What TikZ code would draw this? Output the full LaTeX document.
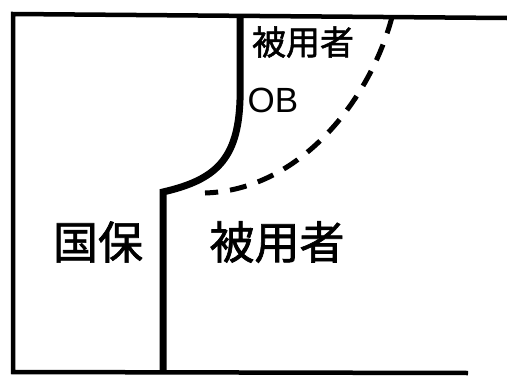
\documentclass[tikz,border=0pt]{standalone}
\usepackage{fontspec}
\setmainfont{Liberation Sans}
\newfontfamily\jpfont{Noto Sans CJK JP}[FakeBold=1.5]
\begin{document}
\begin{tikzpicture}[x=1pt,y=-1pt,
  frame/.style={line width=4.5pt},
  divider/.style={line width=7pt},
  obline/.style={line width=5pt,dash pattern=on 17pt off 12pt},
  label/.style={inner sep=0pt,anchor=center}]
\useasboundingbox (0,0) rectangle (507,378);
% outer frame (open on the right)
\coordinate (tl) at (13,14);
\coordinate (tr) at (507,18);
\coordinate (bl) at (13,372);
\coordinate (br) at (468,373);
\draw[frame] (tr) -- (tl) -- (bl) -- (br);
% thick divider
\coordinate (dtop) at (240,15);
\coordinate (dmid) at (240,100);
\coordinate (dknee) at (163,192);
\coordinate (dbot) at (163,372);
\draw[divider] (dtop) -- (dmid) .. controls (238,160) and (215,180) .. (dknee) -- (dbot);
% dashed boundary
\coordinate (ea) at (392,17);
\coordinate (eb) at (205,193);
\draw[obline] (ea) .. controls (370,100) and (300,190) .. (eb);
% labels
\node[label,font=\jpfont\fontsize{34}{34}\selectfont] (hyo1) at (303,42) {被用者};
\node[label,font=\fontsize{35}{35}\selectfont] (ob) at (273,100) {OB};
\node[label,font=\jpfont\fontsize{45}{45}\selectfont] (koku) at (98,242) {国保};
\node[label,font=\jpfont\fontsize{45}{45}\selectfont] (hyo2) at (277,242) {被用者};
\end{tikzpicture}
\end{document}
